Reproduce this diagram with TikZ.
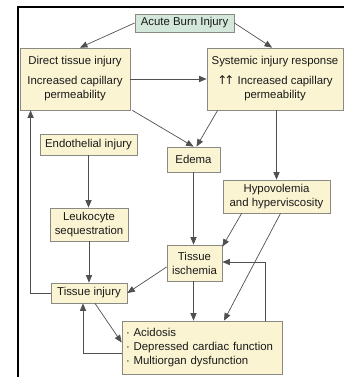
\documentclass[tikz,border=0pt]{standalone}
\usepackage{fontspec}
\setmainfont{Liberation Sans}
\newfontfamily\symfont{DejaVu Sans}
\usetikzlibrary{arrows}
\definecolor{boxfill}{HTML}{FBF4D2}
\definecolor{topfill}{HTML}{D3E8DB}
\definecolor{boxline}{HTML}{8A8A82}
\definecolor{arrowline}{HTML}{505050}

\begin{document}
\begin{tikzpicture}[x=1pt, y=-1pt, font=\fontsize{11.4}{14}\selectfont, text=black!90,
    box/.style={draw=boxline, fill=boxfill, line width=0.8pt, inner sep=0pt, align=center, anchor=center},
    flow/.style={-triangle 45, draw=arrowline, line width=0.7pt}]

    % Page and frame
    \useasboundingbox (0,0) rectangle (344,377);
    \draw[line width=2pt] (18,377) -- (18,7.5) -- (344,7.5);

    % Top node
    \node[box, fill=topfill, minimum width=99pt, minimum height=18pt] (acute) at (184.5,23) {Acute Burn Injury};

    % Second row
    \node[box, minimum width=110pt, minimum height=62pt] (direct) at (75,79) {Direct tissue injury\\[6pt] Increased capillary\\ permeability};
    \node[box, minimum width=136pt, minimum height=62pt] (systemic) at (275,79) {Systemic injury response\\[6pt] {\symfont\fontsize{12}{14}\selectfont ↑\kern-3pt↑} Increased capillary\\ permeability};

    % Middle nodes
    \node[box, minimum width=97pt, minimum height=21pt] (endo) at (88.5,144.5) {Endothelial injury};
    \node[box, minimum width=53pt, minimum height=25pt] (edema) at (193.5,159.5) {Edema};
    \node[box, minimum width=107pt, minimum height=33pt] (hypo) at (276.5,196.5) {Hypovolemia\\ and hyperviscosity};
    \node[box, minimum width=78pt, minimum height=33pt] (leuko) at (89,224.5) {Leukocyte\\ sequestration};
    \node[box, minimum width=55pt, minimum height=36pt] (ischemia) at (194.5,263) {Tissue\\ ischemia};
    \node[box, minimum width=76pt, minimum height=20pt] (tinjury) at (89,293) {Tissue injury};

    % Bottom node
    \node[box, align=left, text width=152pt, minimum width=160pt, minimum height=53pt] (acid) at (202,347.5) {· Acidosis\\ · Depressed cardiac function\\ · Multiorgan dysfunction};

    % Arrows
    \draw[flow] (acute.west) -- ([xshift=5pt]direct.north);
    \draw[flow] (acute.east) -- ([xshift=-3pt]systemic.north);
    \draw[flow] (direct.east) -- (systemic.west);
    \draw[flow] ([xshift=2pt]direct.south east) -- (edema.north);
    \draw[flow] ([xshift=11pt]systemic.south west) -- ([xshift=3pt]edema.north);
    \draw[flow] (hypo.north |- systemic.south) -- (hypo.north);
    \draw[flow] (endo.south) -- (endo.south |- leuko.north);
    \draw[flow] (leuko.south) -- (leuko.south |- tinjury.north);
    \draw[flow] (edema.south) -- (edema.south |- ischemia.north);
    \draw[flow] ([xshift=19pt]hypo.south west) -- ([yshift=-2pt]ischemia.north east);
    \draw[flow] ([xshift=4pt]hypo.south) -- ([xshift=22pt]acid.north);
    \draw[flow] ([yshift=-4pt]ischemia.west) -- (tinjury.east);
    \draw[flow] (edema.south |- ischemia.south) -- (edema.south |- acid.north);
    \draw[flow] ([xshift=6pt]tinjury.south) -- ([yshift=5pt]acid.west);
    \draw[flow] ([yshift=-5.5pt]acid.west) -| ([xshift=-6pt]tinjury.south);
    \draw[flow] ([xshift=63pt]acid.north) |- ([yshift=1pt]ischemia.east);
    \draw[flow] (tinjury.west) -| ([xshift=11pt]direct.south west);

\end{tikzpicture}
\end{document}
